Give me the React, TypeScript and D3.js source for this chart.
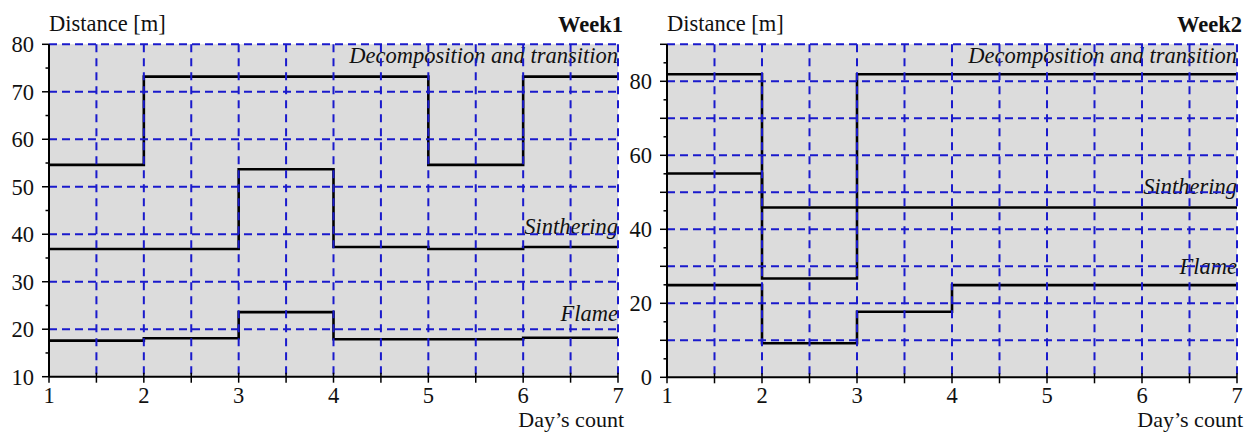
import React from "react";
import * as d3 from "d3";

const days = [1, 2, 3, 4, 5, 6, 7];
const xTicks = [1, 2, 3, 4, 5, 6, 7];

// values per day interval [1,2], [2,3], ..., [6,7]
const week1Decomposition = [54.6, 73.2, 73.2, 73.2, 54.6, 73.2];
const week1Sinthering = [36.9, 36.9, 53.7, 37.3, 36.9, 37.3];
const week1Flame = [17.6, 18.1, 23.6, 17.9, 17.9, 18.2];

const week2Decomposition = [81.9, 26.7, 81.9, 81.9, 81.9, 81.9];
const week2Sinthering = [55.1, 45.9, 45.9, 45.9, 45.9, 45.9];
const week2Flame = [24.9, 9.2, 17.7, 24.9, 24.9, 24.9];

const week1YTicks = [10, 20, 30, 40, 50, 60, 70, 80];
const week2YTicks = [0, 10, 20, 30, 40, 50, 60, 70, 80, 90];
const week2YLabels = [0, 20, 40, 60, 80];

const seriesNames = ["Decomposition and transition", "Sinthering", "Flame"];

const FONT = "'Liberation Serif', 'Times New Roman', serif";
const GRID = "#1a1acc";
const FS = 22.5;

type PanelProps = {
  title: string;
  x0: number;
  x1: number;
  yTop: number;
  yBottom: number;
  yDomain: [number, number];
  yTicks: number[];
  yLabels: number[];
  series: number[][];
  labelY: number[];
};

function Panel(p: PanelProps) {
  const x = d3.scaleLinear().domain([1, 7]).range([p.x0, p.x1]);
  const y = d3.scaleLinear().domain(p.yDomain).range([p.yBottom, p.yTop]);
  const line = d3
    .line<[number, number]>()
    .x((d) => x(d[0]))
    .y((d) => y(d[1]))
    .curve(d3.curveStepAfter);

  const halfDays = d3.range(1.5, 7.01, 0.5);
  const minorY = d3.range(p.yDomain[0] + 5, p.yDomain[1], 10);
  const topY = y(p.yDomain[1]);
  const botY = y(p.yDomain[0]);

  return (
    <g>
      <rect x={p.x0} y={topY} width={p.x1 - p.x0} height={botY - topY} fill="#dcdcdc" />
      {p.series.map((vals, i) => {
        const pts: [number, number][] = days.map((d, j) => [d, vals[Math.min(j, vals.length - 1)]]);
        return <path key={i} d={line(pts) || ""} fill="none" stroke="#000" strokeWidth={2.6} />;
      })}
      {seriesNames.map((n, i) => (
        <text
          key={n}
          x={p.x1}
          y={p.labelY[i]}
          textAnchor="end"
          fontStyle="italic"
          fontSize={FS}
          fontFamily={FONT}
          fill="#111"
        >
          {n}
        </text>
      ))}
      {p.yTicks
        .filter((t) => t !== p.yDomain[0])
        .map((t) => (
          <line
            key={"h" + t}
            x1={p.x0}
            x2={p.x1}
            y1={y(t)}
            y2={y(t)}
            stroke={GRID}
            strokeWidth={2}
            strokeDasharray="8 5"
          />
        ))}
      {halfDays.map((t) => (
        <line
          key={"v" + t}
          x1={x(t)}
          x2={x(t)}
          y1={topY}
          y2={botY}
          stroke={GRID}
          strokeWidth={2}
          strokeDasharray="8 6"
        />
      ))}
      {/* axes */}
      <line x1={p.x0} x2={p.x0} y1={topY} y2={botY} stroke="#000" strokeWidth={2} />
      <line x1={p.x0} x2={p.x1} y1={botY} y2={botY} stroke="#000" strokeWidth={2} />
      {p.yTicks.map((t) => (
        <line key={"yt" + t} x1={p.x0 - 7} x2={p.x0} y1={y(t)} y2={y(t)} stroke="#000" strokeWidth={1.5} />
      ))}
      {minorY.map((t) => (
        <line key={"ym" + t} x1={p.x0 - 3.5} x2={p.x0} y1={y(t)} y2={y(t)} stroke="#000" strokeWidth={1.5} />
      ))}
      {p.yLabels.map((t) => (
        <text
          key={"yl" + t}
          x={p.x0 - 15}
          y={y(t)}
          dy="0.35em"
          textAnchor="end"
          fontSize={FS}
          fontFamily={FONT}
          fill="#111"
        >
          {t}
        </text>
      ))}
      {[1, ...halfDays].map((t) => (
        <line key={"xt" + t} x1={x(t)} x2={x(t)} y1={botY - 4} y2={botY + 6} stroke="#000" strokeWidth={1.5} />
      ))}
      {xTicks.map((t) => (
        <text
          key={"xl" + t}
          x={x(t)}
          y={402.5}
          textAnchor="middle"
          fontSize={FS}
          fontFamily={FONT}
          fill="#111"
        >
          {t}
        </text>
      ))}
      <text x={p.x0} y={31} fontSize={FS} fontFamily={FONT} fill="#111">
        Distance [m]
      </text>
      <text x={p.x1 + 5} y={32} textAnchor="end" fontSize={FS} fontWeight="bold" fontFamily={FONT} fill="#111">
        {p.title}
      </text>
      <text x={p.x1 + 6} y={427.3} textAnchor="end" fontSize={22} fontFamily={FONT} fill="#111">
        Day’s count
      </text>
    </g>
  );
}

export default function App() {
  return (
    <svg
      width={1245}
      height={432}
      style={{ position: "absolute", left: 0, top: 0, background: "#fff" }}
    >
      <Panel
        title="Week1"
        x0={49}
        x1={618}
        yTop={44.3}
        yBottom={376.7}
        yDomain={[10, 80]}
        yTicks={week1YTicks}
        yLabels={week1YTicks}
        series={[week1Decomposition, week1Sinthering, week1Flame]}
        labelY={[63, 234, 321]}
      />
      <Panel
        title="Week2"
        x0={667}
        x1={1237}
        yTop={44.3}
        yBottom={377.3}
        yDomain={[0, 90]}
        yTicks={week2YTicks}
        yLabels={week2YLabels}
        series={[week2Decomposition, week2Sinthering, week2Flame]}
        labelY={[63, 194, 274]}
      />
    </svg>
  );
}
